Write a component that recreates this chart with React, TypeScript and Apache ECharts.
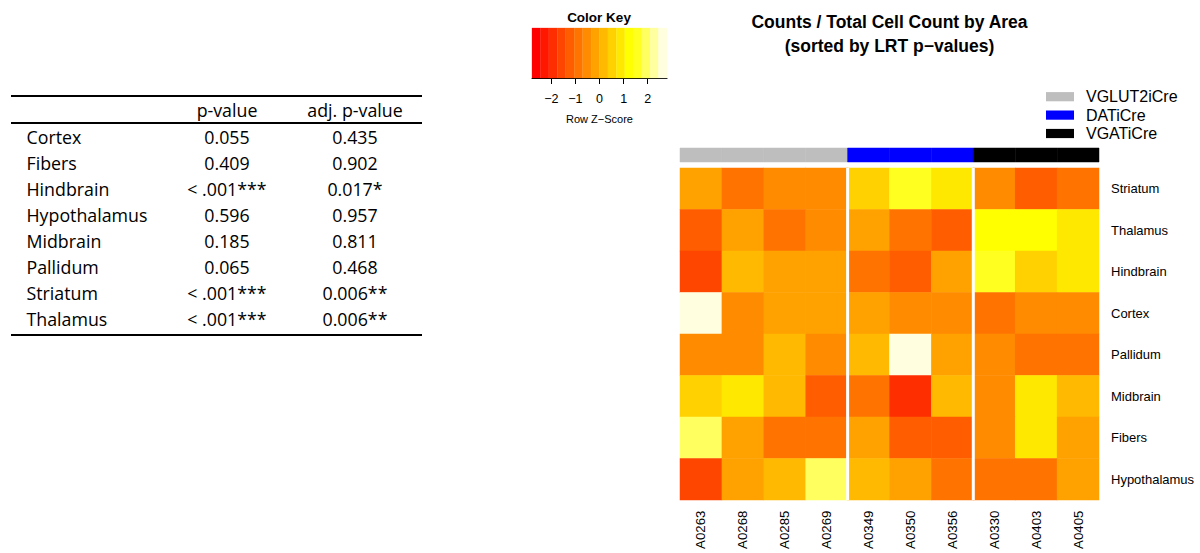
import React, { useEffect, useRef } from "react";
import * as echarts from "echarts";

// ---------- data ----------
const areas = ["Striatum", "Thalamus", "Hindbrain", "Cortex", "Pallidum", "Midbrain", "Fibers", "Hypothalamus"];
const samples = ["A0263", "A0268", "A0285", "A0269", "A0349", "A0350", "A0356", "A0330", "A0403", "A0405"];
const sampleGroup = [0, 0, 0, 0, 1, 1, 1, 2, 2, 2];
const groups = ["VGLUT2iCre", "DATiCre", "VGATiCre"];
const groupColors = ["#BEBEBE", "#0000FF", "#000000"];

// row z-scores (columns follow `samples`)
const striatum = [-0.2, -0.9, -0.5, -0.5, 0.5, 1.6, 0.9, -0.5, -1.2, -0.9];
const thalamus = [-1.2, -0.2, -0.9, -0.5, -0.2, -0.9, -1.2, 1.2, 1.2, 0.9];
const hindbrain = [-1.6, 0.2, -0.2, -0.2, -0.9, -1.2, -0.2, 1.6, 0.5, 0.9];
const cortex = [2.6, -0.5, -0.2, -0.2, -0.2, -0.5, -0.5, -0.9, -0.5, -0.5];
const pallidum = [-0.5, -0.5, 0.2, -0.5, 0.2, 2.6, -0.2, -0.5, -0.9, -0.9];
const midbrain = [0.5, 0.9, 0.2, -1.2, -0.9, -1.9, 0.2, -0.5, 0.9, 0.2];
const fibers = [1.9, -0.2, -0.9, -0.9, -0.2, -1.2, -1.2, -0.5, 0.9, -0.2];
const hypothalamus = [-1.6, -0.2, 0.2, 1.9, 0.2, -0.2, -0.9, -0.9, -0.9, -0.2];
const zRows = [striatum, thalamus, hindbrain, cortex, pallidum, midbrain, fibers, hypothalamus];

// color key (heat.colors(16))
const keyBreaks = [-2.8, -2.45, -2.1, -1.75, -1.4, -1.05, -0.7, -0.35, 0, 0.35, 0.7, 1.05, 1.4, 1.75, 2.1, 2.45, 2.8];
const keyColors = [
  "#FF0000", "#FF1700", "#FF2E00", "#FF4600", "#FF5D00", "#FF7400", "#FF8B00", "#FFA200",
  "#FFB900", "#FFD100", "#FFE800", "#FFFF00", "#FFFF20", "#FFFF60", "#FFFF9F", "#FFFFDF",
];
const keyTicks = [-2, -1, 0, 1, 2];

// table
const tableHeaders = ["p-value", "adj. p-value"];
const tableAreas = ["Cortex", "Fibers", "Hindbrain", "Hypothalamus", "Midbrain", "Pallidum", "Striatum", "Thalamus"];
const pValues = ["0.055", "0.409", "< .001***", "0.596", "0.185", "0.065", "< .001***", "< .001***"];
const adjPValues = ["0.435", "0.902", "0.017*", "0.957", "0.811", "0.468", "0.006**", "0.006**"];

const titleLines = ["Counts / Total Cell Count by Area", "(sorted by LRT p\u2212values)"];

const R_FONT = "'Liberation Sans', Arial, Helvetica, sans-serif";
const T_FONT = "'Open Sans', 'Noto Sans', sans-serif";

function txt(text: string, x: number, y: number, opts: any = {}) {
  const align = opts.align || "left";
  return {
    type: "text",
    x,
    y,
    silent: true,
    style: {
      text,
      fill: "#000",
      fontSize: opts.fontSize || 12,
      fontFamily: opts.fontFamily || R_FONT,
      fontWeight: opts.fontWeight || "normal",
      textAlign: align,
      align,
      textVerticalAlign: "middle",
      verticalAlign: "middle",
    },
  };
}

export default function App() {
  const ref = useRef<HTMLDivElement>(null);

  useEffect(() => {
    if (!ref.current) return;
    const chart = echarts.init(ref.current, null, { renderer: "svg" });

    const heatData: number[][] = [];
    zRows.forEach((row, r) => row.forEach((v, c) => heatData.push([c, r, v])));

    const pieces = keyColors.map((color, i) => ({
      gte: keyBreaks[i],
      lt: i === keyColors.length - 1 ? keyBreaks[i + 1] + 0.001 : keyBreaks[i + 1],
      color,
    }));

    const sepData: number[][] = [];
    for (let i = 0; i < sampleGroup.length - 1; i++) {
      if (sampleGroup[i] !== sampleGroup[i + 1]) sepData.push([i, 0]);
    }

    const graphics: any[] = [];
    // title
    graphics.push(txt(titleLines[0], 889.5, 22, { fontSize: 17.5, fontWeight: "bold", align: "center" }));
    graphics.push(txt(titleLines[1], 889.5, 45.5, { fontSize: 17.5, fontWeight: "bold", align: "center" }));
    // color key title
    graphics.push(txt("Color Key", 599, 17.5, { fontSize: 13.5, fontWeight: "bold", align: "center" }));
    // legend
    groups.forEach((g, i) => {
      const cy = 96.7 + i * 18.4;
      graphics.push({
        type: "rect",
        silent: true,
        shape: { x: 1046, y: cy - 4.6, width: 28, height: 9.2 },
        style: { fill: groupColors[i] },
      });
      graphics.push(txt(g, 1086, cy, { fontSize: 16 }));
    });
    // table
    const lineStyle = { stroke: "#000", lineWidth: 2 };
    [96, 123, 335].forEach((y) =>
      graphics.push({ type: "line", silent: true, shape: { x1: 11, y1: y, x2: 422, y2: y }, style: lineStyle })
    );
    graphics.push(txt(tableHeaders[0], 227, 110, { fontSize: 17.8, fontFamily: T_FONT, align: "center" }));
    graphics.push(txt(tableHeaders[1], 355, 110, { fontSize: 17.8, fontFamily: T_FONT, align: "center" }));
    tableAreas.forEach((a, i) => {
      const y = 136.7 + i * 26;
      graphics.push(txt(a, 26.5, y, { fontSize: 17.8, fontFamily: T_FONT }));
      graphics.push(txt(pValues[i], 227, y, { fontSize: 17.8, fontFamily: T_FONT, align: "center" }));
      graphics.push(txt(adjPValues[i], 355, y, { fontSize: 17.8, fontFamily: T_FONT, align: "center" }));
    });

    const option: any = {
      animation: false,
      backgroundColor: "#fff",
      textStyle: { fontFamily: R_FONT },
      grid: [
        { left: 680, top: 168, width: 419, height: 332 },
        { left: 680, top: 148, width: 419, height: 14 },
        { left: 532, top: 28, width: 135, height: 50 },
      ],
      xAxis: [
        {
          type: "category",
          gridIndex: 0,
          data: samples,
          position: "bottom",
          axisLine: { show: false },
          axisTick: { show: false },
          splitLine: { show: false },
          axisLabel: { rotate: 90, fontSize: 13.3, color: "#000", margin: 10.5, interval: 0, fontFamily: R_FONT },
        },
        { type: "category", gridIndex: 1, data: samples, show: false },
        {
          type: "value",
          gridIndex: 2,
          min: -2.8,
          max: 2.8,
          splitLine: { show: false },
          axisLine: { show: true, onZero: false, lineStyle: { color: "#000", width: 1 } },
          axisTick: { show: true, length: 6, customValues: keyTicks, lineStyle: { color: "#000" } },
          axisLabel: {
            customValues: keyTicks,
            fontSize: 12.5,
            color: "#000",
            margin: 14,
            fontFamily: R_FONT,
            formatter: (v: number) => (v < 0 ? "\u2212" + Math.abs(v) : String(v)),
          },
          name: "Row Z\u2212Score",
          nameLocation: "middle",
          nameGap: 35,
          nameTextStyle: { fontSize: 11, color: "#000", fontFamily: R_FONT },
        },
      ],
      yAxis: [
        {
          type: "category",
          gridIndex: 0,
          data: areas,
          inverse: true,
          position: "right",
          axisLine: { show: false },
          axisTick: { show: false },
          splitLine: { show: false },
          axisLabel: { fontSize: 13, color: "#000", margin: 12, fontFamily: R_FONT },
        },
        { type: "category", gridIndex: 1, data: ["group"], show: false },
        { type: "value", gridIndex: 2, min: 0, max: 1, show: false },
      ],
      visualMap: {
        type: "piecewise",
        show: false,
        seriesIndex: 0,
        dimension: 2,
        pieces,
      },
      series: [
        {
          type: "heatmap",
          xAxisIndex: 0,
          yAxisIndex: 0,
          data: heatData,
          itemStyle: { borderWidth: 0 },
          emphasis: { disabled: true },
        },
        {
          type: "custom",
          xAxisIndex: 0,
          yAxisIndex: 0,
          z: 5,
          silent: true,
          data: sepData,
          renderItem: (params: any, api: any) => {
            const c = api.coord([api.value(0), 0]);
            const s = api.size([1, 1]);
            const cs = params.coordSys;
            return {
              type: "rect",
              shape: { x: c[0] + s[0] / 2 - 1.5, y: cs.y, width: 3, height: cs.height },
              style: { fill: "#fff" },
            };
          },
        },
        {
          type: "custom",
          xAxisIndex: 1,
          yAxisIndex: 1,
          silent: true,
          data: samples.map((_, i) => [i, 0, sampleGroup[i]]),
          renderItem: (params: any, api: any) => {
            const c = api.coord([api.value(0), 0]);
            const s = api.size([1, 1]);
            const col = groupColors[api.value(2)];
            return {
              type: "rect",
              shape: { x: c[0] - s[0] / 2, y: c[1] - s[1] / 2, width: s[0], height: s[1] },
              style: { fill: col, stroke: col, lineWidth: 0.5 },
            };
          },
        },
        {
          type: "custom",
          xAxisIndex: 2,
          yAxisIndex: 2,
          silent: true,
          data: keyColors.map((_, i) => [keyBreaks[i], keyBreaks[i + 1], i]),
          renderItem: (params: any, api: any) => {
            const p1 = api.coord([api.value(0), 1]);
            const p2 = api.coord([api.value(1), 0]);
            const col = keyColors[api.value(2)];
            return {
              type: "rect",
              shape: { x: p1[0], y: p1[1], width: p2[0] - p1[0], height: p2[1] - p1[1] },
              style: { fill: col, stroke: col, lineWidth: 0.3 },
            };
          },
        },
      ],
      graphic: { elements: graphics },
    };

    chart.setOption(option);
    return () => chart.dispose();
  }, []);

  return (
    <div
      ref={ref}
      style={{ position: "absolute", left: 0, top: 0, width: 1200, height: 553, background: "#fff" }}
    />
  );
}
